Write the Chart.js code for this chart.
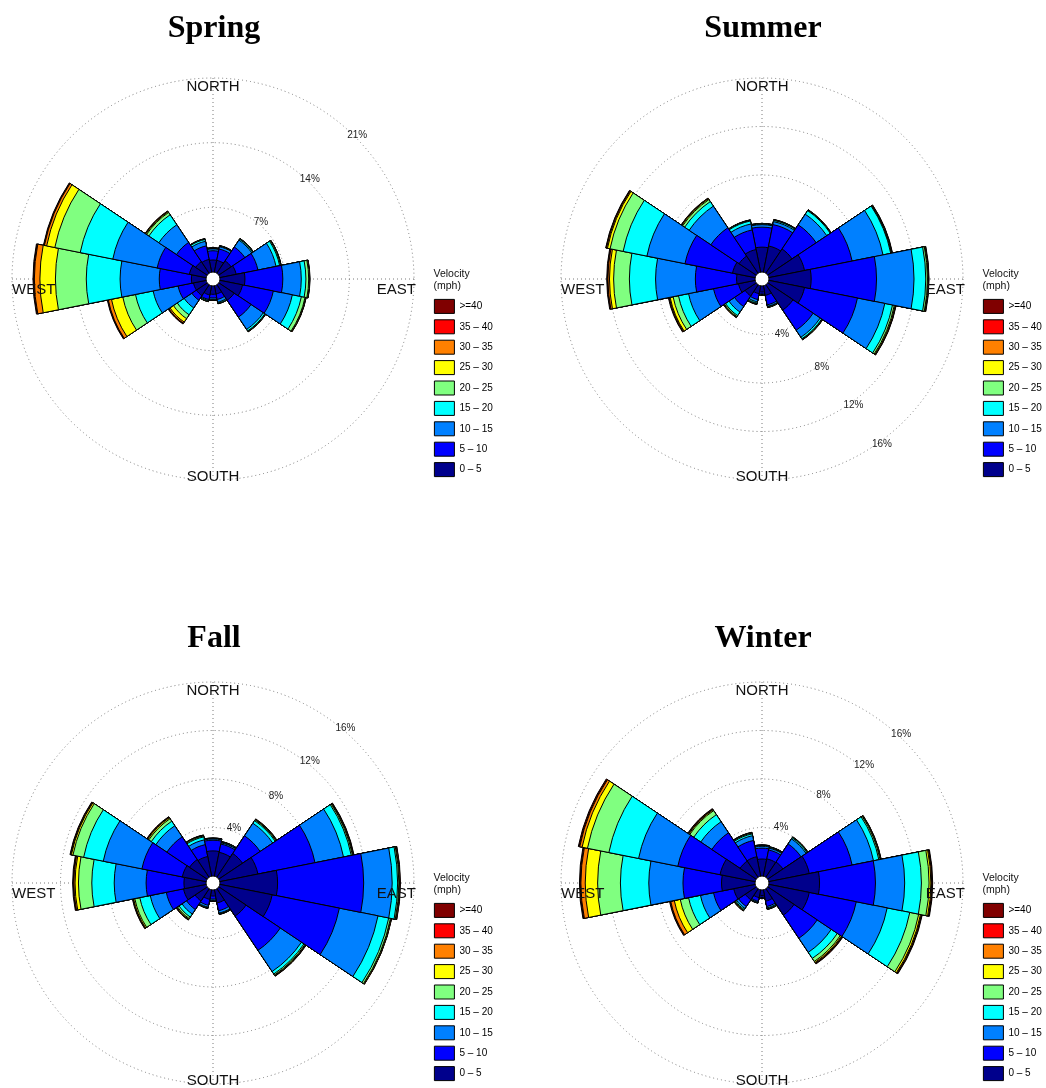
<!DOCTYPE html>
<html>
<head>
<meta charset="utf-8">
<title>Seasonal wind roses</title>
<script src="https://cdn.jsdelivr.net/npm/chart.js@4.4.1/dist/chart.umd.min.js"></script>
<style>
  html, body { margin: 0; padding: 0; background: #fff; }
  body { position: relative; width: 1046px; height: 1088px; overflow: hidden; }
  canvas { position: absolute; }
</style>
</head>
<body>
<canvas id="spring" width="600" height="500" style="left:0;top:0"></canvas>
<canvas id="summer" width="600" height="500" style="left:549px;top:0"></canvas>
<canvas id="fall" width="600" height="500" style="left:0;top:604px"></canvas>
<canvas id="winter" width="600" height="500" style="left:549px;top:604px"></canvas>
<script>
// Compass sectors, clockwise from north
const directions = ['N', 'NNE', 'NE', 'ENE', 'E', 'ESE', 'SE', 'SSE', 'S', 'SSW', 'SW', 'WSW', 'W', 'WNW', 'NW', 'NNW'];

// Wind speed classes (mph), slowest first
const speedBins = ['0 – 5', '5 – 10', '10 – 15', '15 – 20', '20 – 25', '25 – 30', '30 – 35', '35 – 40', '>=40'];

// Frequency rings (%)
const springRings = [7, 14, 21];
const seasonRings = [4, 8, 12, 16];

// Frequency of occurrence (%) per speed class (rows) and direction (columns)
const spring = [
  [1.30, 1.30, 1.60, 1.80, 2.70, 2.50, 2.00, 0.90, 0.90, 1.00, 1.40, 1.40, 1.58, 1.85, 1.50, 1.40],
  [1.00, 1.25, 1.80, 2.40, 4.10, 3.40, 2.20, 0.60, 0.40, 0.50, 0.60, 1.70, 3.48, 3.55, 2.50, 1.50],
  [0.20, 0.25, 0.90, 2.00, 2.00, 2.10, 1.60, 0.30, 0.15, 0.10, 1.00, 2.75, 4.24, 4.90, 2.30, 0.50],
  [0.05, 0.05, 0.12, 0.40, 0.50, 1.00, 0.20, 0.10, 0.05, 0.07, 0.90, 1.95, 3.66, 3.60, 1.30, 0.20],
  [0.03, 0.03, 0.05, 0.10, 0.30, 0.40, 0.05, 0.03, 0.02, 0.03, 0.50, 1.40, 3.34, 2.80, 0.30, 0.05],
  [0.02, 0.02, 0.02, 0.04, 0.08, 0.07, 0.03, 0.02, 0.02, 0.02, 0.45, 1.25, 1.68, 0.90, 0.10, 0.02],
  [0.01, 0.01, 0.01, 0.02, 0.03, 0.03, 0.02, 0.01, 0.01, 0.01, 0.15, 0.35, 0.60, 0.25, 0.05, 0.01],
  [0.01, 0.01, 0.01, 0.01, 0.02, 0.02, 0.01, 0.01, 0.01, 0.01, 0.05, 0.06, 0.08, 0.06, 0.03, 0.01],
  [0.01, 0.01, 0.01, 0.01, 0.01, 0.01, 0.01, 0.01, 0.01, 0.01, 0.05, 0.05, 0.07, 0.05, 0.02, 0.01]
];

const summer = [
  [2.05, 2.20, 2.40, 3.00, 3.48, 3.00, 2.50, 0.80, 0.50, 0.66, 1.10, 1.40, 1.52, 1.90, 1.70, 1.90],
  [1.65, 1.80, 2.40, 4.00, 5.39, 4.45, 2.00, 0.80, 0.15, 0.49, 1.05, 2.10, 3.40, 4.00, 2.80, 1.65],
  [0.20, 0.25, 1.05, 2.60, 3.09, 2.30, 0.70, 0.12, 0.05, 0.20, 0.55, 2.10, 3.28, 3.20, 2.15, 0.50],
  [0.05, 0.10, 0.35, 0.65, 0.97, 0.65, 0.15, 0.04, 0.02, 0.10, 0.35, 0.85, 2.16, 2.00, 0.45, 0.25],
  [0.02, 0.03, 0.05, 0.05, 0.14, 0.15, 0.05, 0.02, 0.01, 0.05, 0.10, 0.45, 1.30, 1.10, 0.20, 0.05],
  [0.01, 0.02, 0.02, 0.03, 0.05, 0.07, 0.02, 0.02, 0.01, 0.03, 0.05, 0.25, 0.34, 0.22, 0.08, 0.02],
  [0.01, 0.01, 0.01, 0.03, 0.03, 0.04, 0.02, 0.01, 0.01, 0.02, 0.02, 0.07, 0.13, 0.08, 0.04, 0.01],
  [0.01, 0.01, 0.01, 0.02, 0.02, 0.02, 0.01, 0.01, 0.01, 0.01, 0.02, 0.04, 0.05, 0.04, 0.02, 0.01],
  [0.01, 0.01, 0.01, 0.02, 0.03, 0.02, 0.01, 0.01, 0.01, 0.01, 0.01, 0.04, 0.05, 0.03, 0.01, 0.01]
];

const fall = [
  [2.07, 2.00, 2.35, 3.20, 4.75, 4.40, 2.70, 1.10, 0.50, 0.80, 1.20, 1.90, 1.82, 2.00, 1.75, 1.65],
  [0.88, 0.70, 1.75, 4.80, 7.10, 5.65, 3.40, 0.65, 0.25, 0.50, 0.85, 1.45, 3.12, 3.40, 2.25, 1.00],
  [0.10, 0.10, 1.25, 2.40, 2.35, 3.25, 2.10, 0.20, 0.10, 0.15, 0.45, 1.35, 2.63, 3.25, 1.10, 0.40],
  [0.03, 0.05, 0.25, 0.65, 0.45, 0.90, 0.25, 0.05, 0.03, 0.05, 0.30, 0.88, 1.85, 1.65, 0.45, 0.25],
  [0.02, 0.03, 0.08, 0.10, 0.10, 0.15, 0.10, 0.03, 0.02, 0.03, 0.15, 0.42, 1.10, 0.90, 0.25, 0.08],
  [0.01, 0.01, 0.04, 0.05, 0.05, 0.05, 0.05, 0.01, 0.01, 0.01, 0.07, 0.10, 0.28, 0.13, 0.10, 0.04],
  [0.01, 0.01, 0.02, 0.03, 0.03, 0.02, 0.03, 0.01, 0.01, 0.01, 0.04, 0.04, 0.10, 0.05, 0.05, 0.02],
  [0.01, 0.01, 0.02, 0.03, 0.03, 0.02, 0.02, 0.01, 0.01, 0.01, 0.02, 0.03, 0.05, 0.04, 0.03, 0.01],
  [0.01, 0.01, 0.02, 0.02, 0.02, 0.01, 0.02, 0.01, 0.01, 0.01, 0.02, 0.03, 0.05, 0.03, 0.02, 0.01]
];

const winter = [
  [1.40, 1.45, 1.50, 3.40, 4.17, 3.40, 2.60, 0.95, 0.45, 0.65, 1.08, 1.80, 2.76, 2.95, 1.60, 1.63],
  [0.90, 0.75, 1.80, 3.60, 4.61, 3.95, 2.30, 0.45, 0.13, 0.30, 0.67, 1.70, 3.18, 3.55, 2.80, 1.37],
  [0.15, 0.15, 0.50, 1.80, 2.41, 2.60, 1.40, 0.12, 0.04, 0.07, 0.20, 1.10, 2.82, 3.30, 1.10, 0.40],
  [0.05, 0.05, 0.10, 0.45, 1.38, 1.90, 0.60, 0.05, 0.02, 0.04, 0.10, 1.00, 2.34, 2.50, 0.70, 0.15],
  [0.02, 0.03, 0.05, 0.10, 0.63, 0.75, 0.30, 0.03, 0.01, 0.02, 0.07, 0.70, 1.88, 1.80, 0.40, 0.07],
  [0.02, 0.02, 0.02, 0.05, 0.15, 0.15, 0.10, 0.02, 0.01, 0.01, 0.03, 0.50, 1.02, 0.45, 0.08, 0.03],
  [0.01, 0.01, 0.01, 0.02, 0.07, 0.07, 0.07, 0.01, 0.01, 0.01, 0.02, 0.30, 0.36, 0.20, 0.04, 0.02],
  [0.01, 0.01, 0.01, 0.02, 0.04, 0.04, 0.04, 0.01, 0.01, 0.01, 0.02, 0.05, 0.06, 0.06, 0.04, 0.01],
  [0.01, 0.01, 0.01, 0.01, 0.04, 0.04, 0.04, 0.01, 0.01, 0.01, 0.01, 0.05, 0.06, 0.06, 0.04, 0.01]
];

// Colour per speed class, slowest first
const binColors = ['#00008C', '#0000FF', '#0080FF', '#00FFFF', '#80FF80', '#FFFF00', '#FF8000', '#FF0000', '#800000'];

// Geometry shared by every rose (canvas pixels)
const CX = 213, CY = 279, RADIUS = 201, HOLE_PX = 7;
const HALF_SECTOR = Math.PI / 16;
const GRID_COLOR = '#7a7a7a';
const SANS = '"Liberation Sans", Arial, Helvetica, sans-serif';

const panels = [
  { canvas: 'spring', title: 'Spring', freq: spring, rings: springRings, ringBearing: [40, 44, 45], titleY: 37 },
  { canvas: 'summer', title: 'Summer', freq: summer, rings: seasonRings, ringBearing: [160, 146, 144, 144], titleY: 37 },
  { canvas: 'fall', title: 'Fall', freq: fall, rings: seasonRings, ringBearing: [21, 36, 38.5, 40.5], titleY: 42.5 },
  { canvas: 'winter', title: 'Winter', freq: winter, rings: seasonRings, ringBearing: [19, 35, 41, 43], titleY: 42.5 }
];

// Running totals per direction so each speed class sits on top of the slower ones
function stackBins(freq) {
  const out = [];
  let run = directions.map(() => 0);
  freq.forEach((row) => {
    run = run.map((v, i) => v + row[i]);
    out.push(run.slice());
  });
  return out;
}

function roseDecor(panel) {
  return {
    id: 'roseDecor',
    beforeDatasetsDraw(chart) {
      // dotted north-south and east-west axes under the petals
      const s = chart.scales.r;
      const ctx = chart.ctx;
      const outer = s.getDistanceFromCenterForValue(s.max);
      ctx.save();
      ctx.strokeStyle = GRID_COLOR;
      ctx.lineWidth = 1;
      ctx.setLineDash([1, 3]);
      for (let q = 0; q < 4; q++) {
        const end = s.getPointPosition(q * 4, outer, HALF_SECTOR);
        ctx.beginPath();
        ctx.moveTo(s.xCenter, s.yCenter);
        ctx.lineTo(end.x, end.y);
        ctx.stroke();
      }
      ctx.restore();
    },
    afterDatasetsDraw(chart) {
      const s = chart.scales.r;
      const ctx = chart.ctx;
      const R = s.drawingArea, cx = s.xCenter, cy = s.yCenter;
      ctx.save();
      // empty centre
      ctx.beginPath();
      ctx.arc(cx, cy, s.getDistanceFromCenterForValue(0), 0, Math.PI * 2);
      ctx.fillStyle = '#fff';
      ctx.fill();
      ctx.strokeStyle = '#000';
      ctx.lineWidth = 1;
      ctx.stroke();

      // compass words
      ctx.fillStyle = '#111';
      ctx.font = '15px ' + SANS;
      ctx.textBaseline = 'alphabetic';
      ctx.textAlign = 'center';
      ctx.fillText('NORTH', cx, cy - R + 12.5);
      ctx.fillText('SOUTH', cx, cy + R + 0.5);
      ctx.textAlign = 'left';
      ctx.fillText('WEST', cx - R, cy + 14.5);
      ctx.textAlign = 'right';
      ctx.fillText('EAST', cx + R + 2, cy + 14.5);

      // frequency ring labels
      ctx.font = '10px ' + SANS;
      ctx.fillStyle = '#222';
      ctx.textAlign = 'center';
      ctx.textBaseline = 'middle';
      panel.rings.forEach((v, i) => {
        const pos = s.getPointPosition(0, s.getDistanceFromCenterForValue(v) + 3,
          panel.ringBearing[i] * Math.PI / 180 + HALF_SECTOR);
        ctx.fillText(v + '%', pos.x, pos.y);
      });
      ctx.restore();
    },
    afterDraw(chart) {
      const s = chart.scales.r;
      const ctx = chart.ctx;
      const lg = chart.legend;
      ctx.save();
      ctx.fillStyle = '#000';
      ctx.font = 'bold 32px "Liberation Serif", "Times New Roman", serif';
      ctx.textAlign = 'center';
      ctx.textBaseline = 'alphabetic';
      ctx.fillText(panel.title, s.xCenter + 1, panel.titleY);

      // legend heading
      ctx.font = '10.5px ' + SANS;
      ctx.textAlign = 'left';
      ctx.fillStyle = '#111';
      ctx.fillText('Velocity', lg.left + 5.5, lg.top - 16);
      ctx.fillText('(mph)', lg.left + 5.5, lg.top - 4);
      ctx.restore();
    }
  };
}

panels.forEach((panel) => {
  const outerRing = panel.rings[panel.rings.length - 1];
  const minValue = -outerRing * HOLE_PX / (RADIUS - HOLE_PX);
  const stacked = stackBins(panel.freq);

  const datasets = speedBins.map((label, b) => ({
    label,
    data: stacked[b],
    backgroundColor: binColors[b],
    borderColor: '#000',
    borderWidth: 1,
    clip: false
  }));

  new Chart(document.getElementById(panel.canvas), {
    type: 'polarArea',
    data: { labels: directions, datasets },
    options: {
      responsive: false,
      animation: false,
      events: [],
      layout: { padding: { left: 428, top: 293, right: 0, bottom: 0 } },
      scales: {
        r: {
          min: minValue,
          max: outerRing,
          startAngle: -11.25,
          afterBuildTicks: (scale) => {
            scale.ticks = [{ value: minValue }].concat(panel.rings.map((v) => ({ value: v })));
          },
          afterFit: (scale) => {
            scale.xCenter = CX;
            scale.yCenter = CY;
            scale.drawingArea = RADIUS;
          },
          ticks: { display: false },
          pointLabels: { display: false },
          angleLines: { display: false },
          grid: {
            circular: true,
            lineWidth: 1,
            color: (ctx) => (ctx.tick && ctx.tick.value > 0 ? GRID_COLOR : 'rgba(0,0,0,0)'),
            borderDash: [1, 3]
          },
          border: { dash: [1, 3] }
        }
      },
      plugins: {
        title: { display: false },
        tooltip: { enabled: false },
        legend: {
          position: 'left',
          align: 'start',
          reverse: true,
          labels: {
            boxWidth: 20,
            boxHeight: 14,
            padding: 6.4,
            color: '#111',
            font: { family: SANS, size: 10 },
            generateLabels: (chart) => chart.data.datasets.map((ds, i) => ({
              text: ds.label,
              fillStyle: ds.backgroundColor,
              strokeStyle: '#000',
              lineWidth: 1,
              hidden: false,
              datasetIndex: i
            }))
          }
        }
      }
    },
    plugins: [roseDecor(panel)]
  });
});
</script>
</body>
</html>
